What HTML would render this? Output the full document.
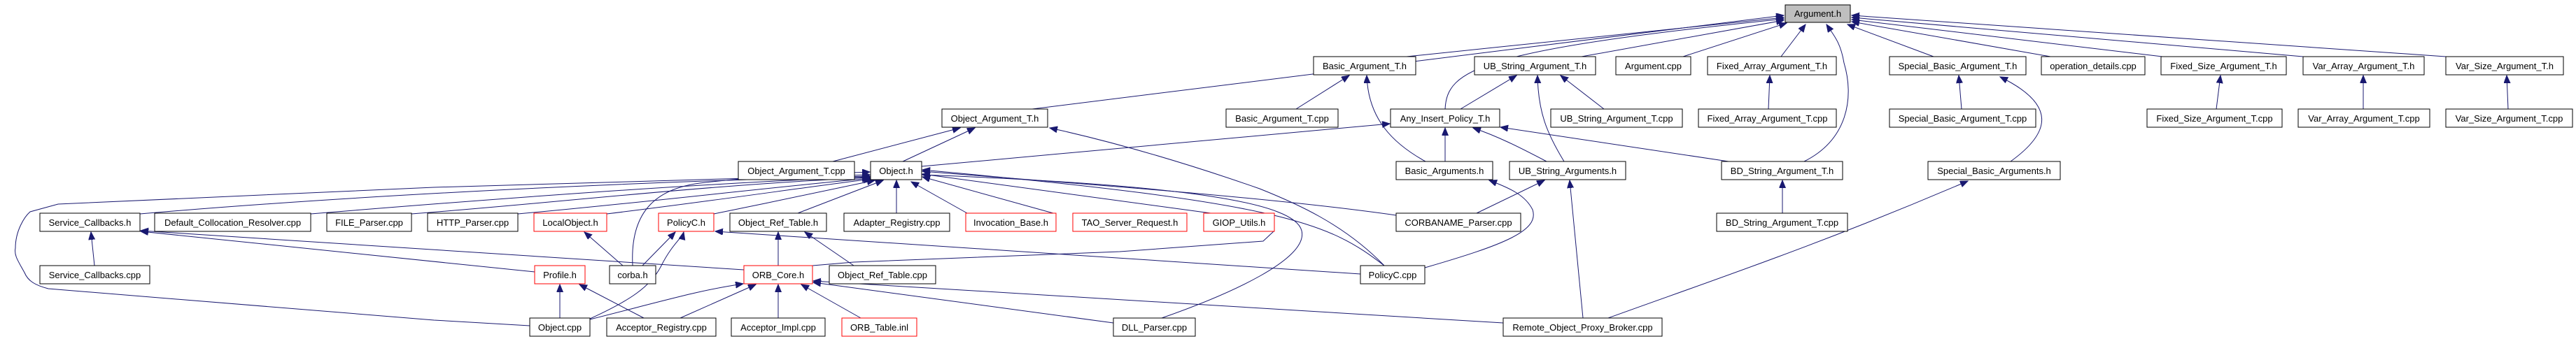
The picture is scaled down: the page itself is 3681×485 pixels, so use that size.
<!DOCTYPE html>
<html><head><meta charset="utf-8"><style>
html,body{margin:0;padding:0;background:#fff;}
svg{display:block;}
text{font-family:"Liberation Sans",sans-serif;font-size:13px;fill:#000;}
.e{fill:none;stroke:#191970;stroke-width:1;}
.n{fill:#fff;stroke:#000;stroke-width:1;}
.r{fill:#fff;stroke:#ff0000;stroke-width:1;}
</style></head><body>
<svg width="3681" height="485" viewBox="0 0 3681 485" xmlns="http://www.w3.org/2000/svg">
<defs><marker id="a" markerWidth="12" markerHeight="10" refX="11" refY="4.5" orient="auto" markerUnits="userSpaceOnUse"><path d="M0,0 L11,4.5 L0,9 z" fill="#191970" stroke="#191970"/></marker></defs>
<g class="e" marker-end="url(#a)">
<!-- to Argument.h -->
<path d="M1475,156 L2549,22"/>
<path d="M2010,81 L2549,25"/>
<path d="M2065,156 C2068,100 2110,72 2549,27"/>
<path d="M2260,81 L2549,29"/>
<path d="M2405,81 L2553,33"/>
<path d="M2545,81 L2580,35"/>
<path d="M2578,231 C2640,200 2650,140 2635,90 C2630,60 2620,50 2610,35"/>
<path d="M2763,81 L2640,35"/>
<path d="M2930,81 L2646,31"/>
<path d="M3090,81 L2646,28"/>
<path d="M3291,81 L2646,25"/>
<path d="M3495,81 L2646,22"/>
<!-- to Object.h -->
<path d="M200,306 C500,280 900,260 1243,252"/>
<path d="M444,306 C700,285 1000,262 1243,253"/>
<path d="M588,306 C800,290 1000,265 1243,254"/>
<path d="M740,306 C900,292 1100,268 1243,255"/>
<path d="M867,306 C1000,290 1150,268 1245,256"/>
<path d="M1020,306 C1100,290 1200,268 1250,258"/>
<path d="M1140,305 L1262,258"/>
<path d="M1281,305 L1281,258"/>
<path d="M1382,305 L1302,260"/>
<path d="M1505,305 L1318,253"/>
<path d="M1730,305 L1318,249"/>
<path d="M1995,308 C1800,280 1500,260 1318,245"/>
<path d="M904,380 C900,300 940,270 1000,262 C1100,250 1200,248 1243,246"/>
<path d="M757,466 L620,458 L69,413 C50,408 40,402 35,390 C25,372 20,365 22,355 C22,330 35,310 43,303 L83,292 L620,268 L1243,250"/>
<path d="M1660,455 C1760,420 1870,370 1860,330 C1850,290 1700,265 1318,250"/>
<path d="M1978,380 C1900,320 1840,290 1318,243"/>
<!-- Object_Argument_T.h -->
<path d="M1190,231 L1372,183"/>
<path d="M1290,231 L1393,183"/>
<path d="M1978,380 C1920,320 1850,290 1800,270 C1700,235 1600,205 1500,183"/>
<!-- Any_Insert -->
<path d="M1317,238 L1986,177"/>
<path d="M2065,231 L2065,183"/>
<path d="M2210,231 C2170,210 2140,195 2105,183"/>
<path d="M2470,231 L2144,182"/>
<!-- Basic_Argument_T.h -->
<path d="M1852,156 L1928,108"/>
<path d="M2037,231 C1990,205 1955,170 1953,108"/>
<!-- UB_String_Argument_T.h -->
<path d="M2087,156 L2167,108"/>
<path d="M2235,231 C2210,190 2198,160 2197,108"/>
<path d="M2292,156 L2230,108"/>
<!-- Basic_Arguments / UB_String_Arguments -->
<path d="M2036,383 C2150,350 2200,330 2190,300 C2180,280 2160,270 2128,258"/>
<path d="M2110,305 L2207,258"/>
<path d="M2262,455 L2243,258"/>
<path d="M2298,455 C2450,400 2600,350 2812,259"/>
<!-- misc right -->
<path d="M2527,156 L2529,108"/>
<path d="M2547,305 L2547,258"/>
<path d="M2803,156 L2799,108"/>
<path d="M2873,231 C2930,190 2940,150 2858,110"/>
<path d="M3167,156 L3173,108"/>
<path d="M3377,156 L3377,108"/>
<path d="M3584,156 L3582,108"/>
<!-- lower left -->
<path d="M135,380 L130,332"/>
<path d="M764,389 L201,331"/>
<path d="M1063,386 L201,330"/>
<path d="M890,380 L835,332"/>
<path d="M918,380 L965,332"/>
<path d="M843,456 C900,430 930,410 945,380 C960,350 975,340 977,332"/>
<path d="M1944,392 L1022,331"/>
<path d="M1112,380 L1112,332"/>
<path d="M1220,380 L1150,332"/>
<path d="M800,455 L800,407"/>
<path d="M920,455 L828,407"/>
<path d="M843,457 C950,430 1000,415 1062,406"/>
<path d="M972,455 L1080,407"/>
<path d="M1112,455 L1112,407"/>
<path d="M1230,455 L1145,407"/>
<path d="M1591,462 L1162,404"/>
<path d="M2148,462 L1162,402"/>
</g>
<path class="e" d="M1161,380 L1220,375 L1600,360 L1805,345 L1820,331"/>

<!-- nodes -->
<g>
<rect x="2551" y="7" width="93" height="25" fill="#bfbfbf" stroke="#000"/><text x="2597.5" y="24" text-anchor="middle">Argument.h</text>

<rect class="n" x="1877" y="81" width="146" height="26"/><text x="1950" y="99" text-anchor="middle">Basic_Argument_T.h</text>
<rect class="n" x="2107" y="81" width="173" height="26"/><text x="2193.5" y="99" text-anchor="middle">UB_String_Argument_T.h</text>
<rect class="n" x="2309" y="81" width="107" height="26"/><text x="2362.5" y="99" text-anchor="middle">Argument.cpp</text>
<rect class="n" x="2440" y="81" width="184" height="26"/><text x="2532" y="99" text-anchor="middle">Fixed_Array_Argument_T.h</text>
<rect class="n" x="2700" y="81" width="195" height="26"/><text x="2797.5" y="99" text-anchor="middle">Special_Basic_Argument_T.h</text>
<rect class="n" x="2917" y="81" width="148" height="26"/><text x="2991" y="99" text-anchor="middle">operation_details.cpp</text>
<rect class="n" x="3088" y="81" width="179" height="26"/><text x="3177.5" y="99" text-anchor="middle">Fixed_Size_Argument_T.h</text>
<rect class="n" x="3291" y="81" width="173" height="26"/><text x="3377.5" y="99" text-anchor="middle">Var_Array_Argument_T.h</text>
<rect class="n" x="3495" y="81" width="168" height="26"/><text x="3579" y="99" text-anchor="middle">Var_Size_Argument_T.h</text>

<rect class="n" x="1346" y="156" width="151" height="26"/><text x="1421.5" y="174" text-anchor="middle">Object_Argument_T.h</text>
<rect class="n" x="1752" y="156" width="160" height="26"/><text x="1832" y="174" text-anchor="middle">Basic_Argument_T.cpp</text>
<rect class="n" x="1987" y="156" width="156" height="26"/><text x="2065" y="174" text-anchor="middle">Any_Insert_Policy_T.h</text>
<rect class="n" x="2216" y="156" width="188" height="26"/><text x="2310" y="174" text-anchor="middle">UB_String_Argument_T.cpp</text>
<rect class="n" x="2427" y="156" width="197" height="26"/><text x="2525.5" y="174" text-anchor="middle">Fixed_Array_Argument_T.cpp</text>
<rect class="n" x="2700" y="156" width="209" height="26"/><text x="2804.5" y="174" text-anchor="middle">Special_Basic_Argument_T.cpp</text>
<rect class="n" x="3068" y="156" width="193" height="26"/><text x="3164.5" y="174" text-anchor="middle">Fixed_Size_Argument_T.cpp</text>
<rect class="n" x="3284" y="156" width="188" height="26"/><text x="3378" y="174" text-anchor="middle">Var_Array_Argument_T.cpp</text>
<rect class="n" x="3495" y="156" width="181" height="26"/><text x="3585.5" y="174" text-anchor="middle">Var_Size_Argument_T.cpp</text>

<rect class="n" x="1055" y="231" width="166" height="26"/><text x="1138" y="249" text-anchor="middle">Object_Argument_T.cpp</text>
<rect class="n" x="1244" y="231" width="73" height="26"/><text x="1280.5" y="249" text-anchor="middle">Object.h</text>
<rect class="n" x="1995" y="231" width="138" height="26"/><text x="2064" y="249" text-anchor="middle">Basic_Arguments.h</text>
<rect class="n" x="2157" y="231" width="166" height="26"/><text x="2240" y="249" text-anchor="middle">UB_String_Arguments.h</text>
<rect class="n" x="2460" y="231" width="173" height="26"/><text x="2546.5" y="249" text-anchor="middle">BD_String_Argument_T.h</text>
<rect class="n" x="2755" y="231" width="189" height="26"/><text x="2849.5" y="249" text-anchor="middle">Special_Basic_Arguments.h</text>

<rect class="n" x="57" y="305" width="143" height="26"/><text x="128.5" y="323" text-anchor="middle">Service_Callbacks.h</text>
<rect class="n" x="221" y="305" width="223" height="26"/><text x="332.5" y="323" text-anchor="middle">Default_Collocation_Resolver.cpp</text>
<rect class="n" x="467" y="305" width="121" height="26"/><text x="527.5" y="323" text-anchor="middle">FILE_Parser.cpp</text>
<rect class="n" x="611" y="305" width="129" height="26"/><text x="675.5" y="323" text-anchor="middle">HTTP_Parser.cpp</text>
<rect class="r" x="763" y="305" width="104" height="26"/><text x="815" y="323" text-anchor="middle">LocalObject.h</text>
<rect class="r" x="941" y="305" width="79" height="26"/><text x="980.5" y="323" text-anchor="middle">PolicyC.h</text>
<rect class="n" x="1043" y="305" width="138" height="26"/><text x="1112" y="323" text-anchor="middle">Object_Ref_Table.h</text>
<rect class="n" x="1206" y="305" width="151" height="26"/><text x="1281.5" y="323" text-anchor="middle">Adapter_Registry.cpp</text>
<rect class="r" x="1380" y="305" width="129" height="26"/><text x="1444.5" y="323" text-anchor="middle">Invocation_Base.h</text>
<rect class="r" x="1533" y="305" width="163" height="26"/><text x="1614.5" y="323" text-anchor="middle">TAO_Server_Request.h</text>
<rect class="r" x="1720" y="305" width="101" height="26"/><text x="1770.5" y="323" text-anchor="middle">GIOP_Utils.h</text>
<rect class="n" x="1995" y="305" width="178" height="26"/><text x="2084" y="323" text-anchor="middle">CORBANAME_Parser.cpp</text>
<rect class="n" x="2453" y="305" width="187" height="26"/><text x="2546.5" y="323" text-anchor="middle">BD_String_Argument_T.cpp</text>

<rect class="n" x="57" y="380" width="157" height="26"/><text x="135.5" y="398" text-anchor="middle">Service_Callbacks.cpp</text>
<rect class="r" x="764" y="380" width="72" height="26"/><text x="800" y="398" text-anchor="middle">Profile.h</text>
<rect class="n" x="871" y="380" width="66" height="26"/><text x="904" y="398" text-anchor="middle">corba.h</text>
<rect class="r" x="1063" y="380" width="98" height="26"/><text x="1112" y="398" text-anchor="middle">ORB_Core.h</text>
<rect class="n" x="1185" y="380" width="152" height="26"/><text x="1261" y="398" text-anchor="middle">Object_Ref_Table.cpp</text>
<rect class="n" x="1944" y="380" width="92" height="26"/><text x="1990" y="398" text-anchor="middle">PolicyC.cpp</text>

<rect class="n" x="757" y="455" width="86" height="26"/><text x="800" y="473" text-anchor="middle">Object.cpp</text>
<rect class="n" x="867" y="455" width="156" height="26"/><text x="945" y="473" text-anchor="middle">Acceptor_Registry.cpp</text>
<rect class="n" x="1045" y="455" width="134" height="26"/><text x="1112" y="473" text-anchor="middle">Acceptor_Impl.cpp</text>
<rect class="r" x="1203" y="455" width="107" height="26"/><text x="1256.5" y="473" text-anchor="middle">ORB_Table.inl</text>
<rect class="n" x="1591" y="455" width="117" height="26"/><text x="1649.5" y="473" text-anchor="middle">DLL_Parser.cpp</text>
<rect class="n" x="2148" y="455" width="227" height="26"/><text x="2261.5" y="473" text-anchor="middle">Remote_Object_Proxy_Broker.cpp</text>
</g>
</svg>
</body></html>
